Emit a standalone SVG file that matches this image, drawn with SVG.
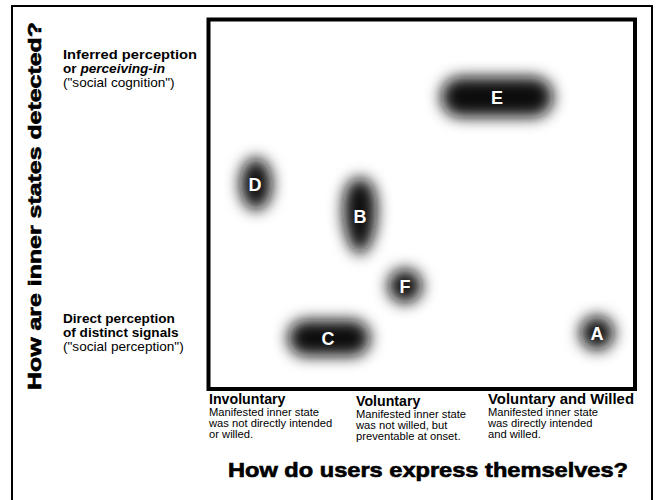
<svg xmlns="http://www.w3.org/2000/svg" width="656" height="500" viewBox="0 0 656 500">
<style>
.ax{font-family:"Liberation Sans",Arial,sans-serif;font-weight:bold;fill:#000;stroke:#000;stroke-width:0.6}
.lb{font-family:"Liberation Sans",Arial,sans-serif;font-size:13.6px;fill:#000}
.b{font-weight:bold}
.sm{font-family:"Liberation Sans",Arial,sans-serif;font-size:11.2px;fill:#000}
.hd{font-family:"Liberation Sans",Arial,sans-serif;font-size:14.2px;font-weight:bold;fill:#000}
.blob{fill:#0d0d0d;filter:url(#blur)}
.nl{font-family:"Liberation Sans",Arial,sans-serif;font-size:18px;font-weight:bold;fill:#fff;text-anchor:middle}
</style>
<defs>
<filter id="blur" x="-80%" y="-80%" width="260%" height="260%">
<feGaussianBlur stdDeviation="7.5"/>
</filter>
</defs>
<rect width="656" height="500" fill="#fff"/>
<rect x="12" y="6" width="640" height="500" fill="none" stroke="#000" stroke-width="2"/>
<rect id="plot" x="208.5" y="19.5" width="426.5" height="369.5" fill="#fff" stroke="#000" stroke-width="4"/>
<g id="axis-y">
<text class="ax" font-size="19" transform="translate(41,206) rotate(-90)" text-anchor="middle" textLength="368" lengthAdjust="spacingAndGlyphs">How are inner states detected?</text>
<text class="lb" x="63" y="58.5"><tspan class="b" textLength="134" lengthAdjust="spacingAndGlyphs">Inferred perception</tspan><tspan class="b" x="63" dy="14">or <tspan font-style="italic">perceiving-in</tspan></tspan><tspan x="63" dy="14">("social cognition")</tspan></text>
<text class="lb" x="63" y="323"><tspan class="b">Direct perception</tspan><tspan class="b" x="63" dy="14">of distinct signals</tspan><tspan x="63" dy="14">("social perception")</tspan></text>
</g>
<g id="axis-x">
<text class="hd" x="209" y="403.5">Involuntary</text>
<text class="sm" x="209" y="415.5">Manifested inner state</text>
<text class="sm" x="209" y="426.5">was not directly intended</text>
<text class="sm" x="209" y="437.5">or willed.</text>
<text class="hd" x="356" y="405.5">Voluntary</text>
<text class="sm" x="356" y="417.5">Manifested inner state</text>
<text class="sm" x="356" y="428.5">was not willed, but</text>
<text class="sm" x="356" y="439.5">preventable at onset.</text>
<text class="hd" x="488" y="403.5" textLength="146" lengthAdjust="spacingAndGlyphs">Voluntary and Willed</text>
<text class="sm" x="488" y="415.5">Manifested inner state</text>
<text class="sm" x="488" y="426.5">was directly intended</text>
<text class="sm" x="488" y="437.5">and willed.</text>
<text class="ax" font-size="19.5" x="428" y="477" text-anchor="middle" textLength="400" lengthAdjust="spacingAndGlyphs">How do users express themselves?</text>
</g>
<g id="node-E"><rect class="blob" x="441" y="77" width="112" height="40" rx="20"/><text class="nl" x="497" y="104">E</text></g>
<g id="node-D"><ellipse class="blob" cx="256" cy="184" rx="16" ry="26"/><text class="nl" x="255" y="191">D</text></g>
<g id="node-B"><path class="blob" d="M360,178 C377,178 378,205 376,222 C374,240 366,254 360,254 C354,254 346,240 344,222 C342,205 343,178 360,178 Z"/><text class="nl" x="360" y="223">B</text></g>
<g id="node-F"><circle class="blob" cx="405" cy="286" r="17"/><text class="nl" x="405" y="293">F</text></g>
<g id="node-C"><rect class="blob" x="288" y="320" width="82" height="36" rx="18"/><text class="nl" x="328" y="345">C</text></g>
<g id="node-A"><circle class="blob" cx="597" cy="333" r="17"/><text class="nl" x="597" y="340">A</text></g>
<g id="connectors"></g>
</svg>
